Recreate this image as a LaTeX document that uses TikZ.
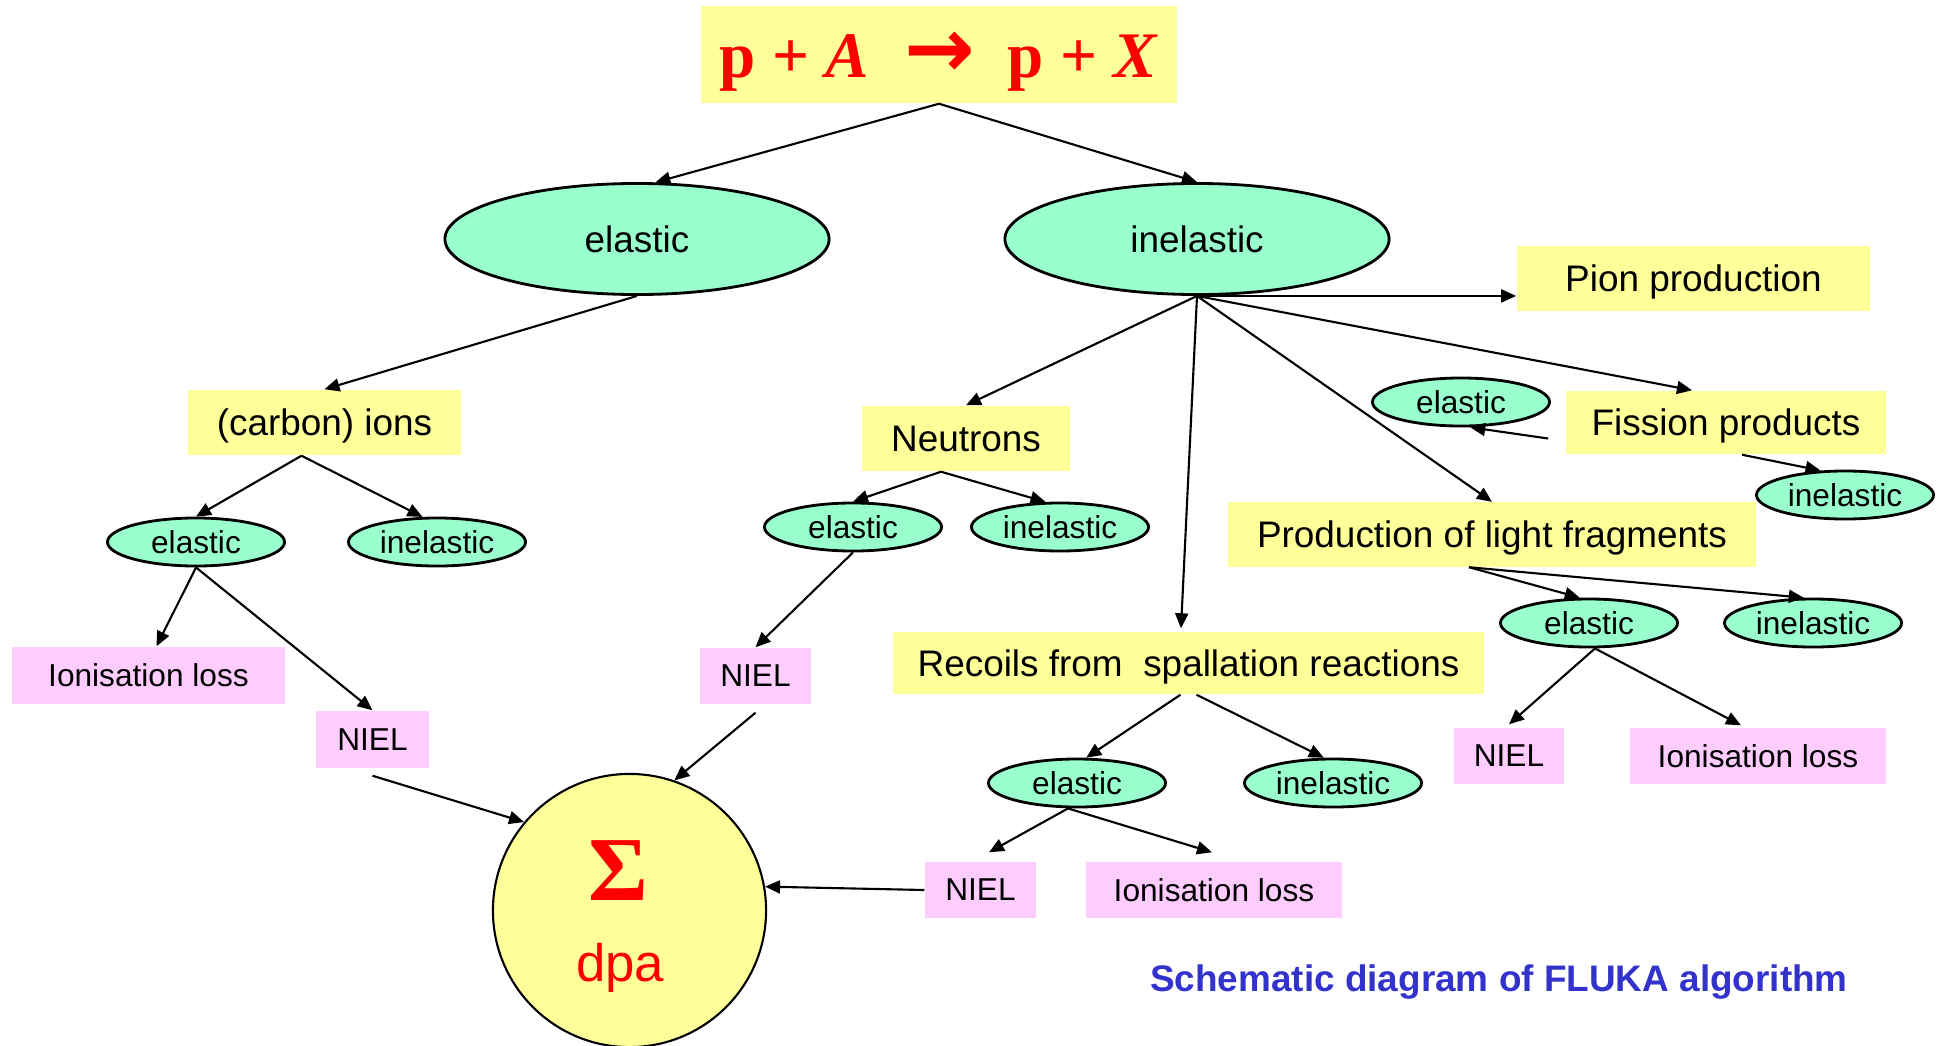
\documentclass[tikz,border=0pt]{standalone}
\usepackage{fontspec}
\setmainfont{Liberation Sans}
\newfontfamily\tnr{Liberation Serif}
\newfontfamily\djv{DejaVu Sans}
\usetikzlibrary{arrows.meta,shapes.geometric,calc}
\definecolor{cbox}{HTML}{FFFF99}
\definecolor{cell}{HTML}{99FFCC}
\definecolor{cniel}{HTML}{FFCCFF}
\definecolor{cred}{HTML}{FF0000}
\definecolor{ctitle}{HTML}{3333CC}
\tikzset{
  lab/.style={inner sep=0pt, font=\fontsize{10.5}{12}\selectfont},
  ybox/.style={lab, fill=cbox, minimum height=6.5mm, text depth=0pt},
  pbox/.style={inner sep=0pt, fill=cniel, minimum height=5.6mm, font=\fontsize{9}{11}\selectfont},
  bigell/.style={lab, ellipse, draw, line width=0.8pt, fill=cell, minimum width=38.4mm, minimum height=11.1mm},
  smell/.style={ellipse, draw, line width=0.8pt, fill=cell, inner sep=0pt, minimum width=17.7mm, minimum height=4.8mm, font=\fontsize{9}{11}\selectfont},
  pre/.style={-{Triangle[length=1.5mm,width=1.3mm]}, line width=0.6pt},
  redtxt/.style={text=cred, inner sep=0pt},
}

\begin{document}
\begin{tikzpicture}[x=0.01cm,y=-0.01cm]
\useasboundingbox (0,0) rectangle (1939,1045);
\node[ybox, minimum width=47.6mm, minimum height=9.7mm, redtxt, font=\fontsize{18.5}{20}\selectfont\tnr\bfseries] (top) at (939,54.5) {p + \textit{A}\hspace{3.6mm}{\djv\fontsize{24}{24}\selectfont→}\hspace{3.2mm}p + \textit{X}};
\node[bigell] (el) at (637,239) {elastic};
\node[bigell] (inel) at (1197,239) {inelastic};
\node[ybox, minimum width=35.3mm] (pion) at (1693.5,278.5) {Pion production\hspace{1.2mm}};
\node[ybox, minimum width=32mm, minimum height=6.3mm] (fiss) at (1726,422.5) {Fission products};
\node[smell] (fissel) at (1461,402) {elastic};
\node[smell] (fissinel) at (1845,495) {inelastic};
\node[ybox, minimum width=52.8mm, minimum height=6.4mm] (light) at (1492,534.5) {Production of light fragments};
\node[smell] (lightel) at (1589,623) {elastic};
\node[smell] (lightinel) at (1813,623) {inelastic};
\node[pbox, minimum width=11mm] (nielR) at (1509,756) {NIEL};
\node[pbox, minimum width=25.6mm] (ionR) at (1758,756) {Ionisation loss};
\node[ybox, minimum width=59.1mm, minimum height=6.2mm] (recoil) at (1188.5,663) {Recoils from\ \ spallation reactions};
\node[smell] (recel) at (1077,783) {elastic};
\node[smell] (recinel) at (1333,783) {inelastic};
\node[pbox, minimum width=11.1mm] (nielB) at (980.5,890) {NIEL};
\node[pbox, minimum width=25.6mm] (ionB) at (1214,890) {Ionisation loss};
\node[ybox, minimum width=20.8mm] (neut) at (966,438.5) {Neutrons};
\node[smell] (neutel) at (853,527) {elastic};
\node[smell] (neutinel) at (1060,527) {inelastic};
\node[pbox, minimum width=11.1mm] (nielM) at (755.5,676) {NIEL};
\node[ybox, minimum width=27.3mm] (carbon) at (324.5,422.5) {(carbon) ions};
\node[smell] (carbel) at (196,542) {elastic};
\node[smell] (carbinel) at (437,542) {inelastic};
\node[pbox, minimum width=27.3mm, minimum height=5.7mm] (ionL) at (148.5,675.5) {Ionisation loss};
\node[pbox, minimum width=11.3mm, minimum height=5.7mm] (nielL) at (372.5,739.5) {NIEL};
\node[circle, draw, line width=0.6pt, fill=cbox, minimum size=27.3mm, inner sep=0pt] (dpa) at (629.5,910.5) {};
\node[redtxt, font=\fontsize{26}{28}\selectfont\tnr\bfseries] (sig) at (618,870.5) {Σ};
\node[redtxt, font=\fontsize{15}{17}\selectfont] (dpatxt) at (620,968) {dpa};
\node[font=\fontsize{10.5}{12}\selectfont\bfseries, text=ctitle] (title) at (1499,982) {Schematic diagram of FLUKA algorithm};
\draw[pre] (top.south) -- (el.72);
\draw[pre] (top.south) -- (inel.north);
\draw[pre] (el.south) -- (carbon.north);
\draw[pre] ([xshift=-2.3mm]carbon.south) -- (carbel.north);
\draw[pre] ([xshift=-2.3mm]carbon.south) -- (carbinel.120);
\draw[pre] (carbel.south) -- ([xshift=0.8mm]ionL.north);
\draw[pre] (carbel.south) -- (nielL.north);
\draw[pre] ([yshift=-0.7mm]nielL.south) -- (dpa.140);
\draw[pre] (inel.south) -- (inel.south -| pion.west);
\draw[pre] (inel.south) -- ([xshift=-3.4mm]fiss.north);
\draw[pre] (inel.south) -- (neut.north);
\draw[pre] (inel.south) -- ([xshift=-0.75mm,yshift=0.3mm]recoil.north);
\draw[pre] (inel.south) -- (light.north);
\draw[pre] ([xshift=-2.5mm]neut.south) -- (neutel.north);
\draw[pre] ([xshift=-2.5mm]neut.south) -- (neutinel.120);
\draw[pre] (neutel.south) -- (nielM.north);
\draw[pre] ([yshift=-0.8mm]nielM.south) -- (dpa.71);
\draw[pre] ([xshift=-0.8mm]recoil.south) -- (recel.70);
\draw[pre] ([xshift=0.8mm]recoil.south) -- (recinel.110);
\draw[pre] ([xshift=-0.9mm]recel.south) -- ([shift={(0.85mm,0.9mm)}]nielB.north);
\draw[pre] ([xshift=-0.9mm]recel.south) -- ([shift={(-0.2mm,0.9mm)}]ionB.north);
\draw[pre] (nielB.west) -- (dpa.10);
\draw[pre] ([xshift=-2.3mm]light.south) -- (lightel.110);
\draw[pre] ([xshift=-2.3mm]light.south) -- (lightinel.110);
\draw[pre] ([xshift=0.6mm]lightel.south) -- ([yshift=0.3mm]nielR.north);
\draw[pre] ([xshift=0.6mm]lightel.south) -- ([xshift=-1.7mm,yshift=0.2mm]ionR.north);
\draw[pre] ([shift={(-1.7mm,-1.6mm)}]fiss.west) -- (fissel.-70);
\draw[pre] ([xshift=1.6mm]fiss.south) -- (fissinel.135);
\end{tikzpicture}
\end{document}
